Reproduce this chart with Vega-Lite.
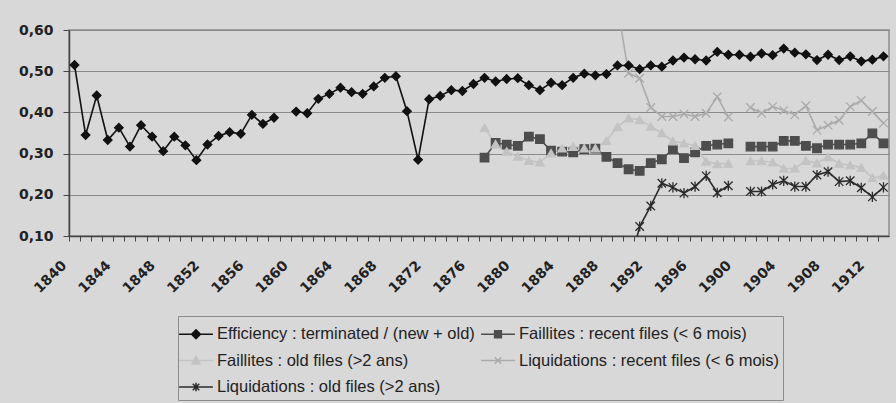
{
  "$schema": "https://vega.github.io/schema/vega-lite/v6.json",
  "autosize": {"type": "none"},
  "padding": {"left": 69, "top": 30, "right": 7, "bottom": 167},
  "width": 820,
  "height": 206,
  "background": "#d8d8d8",
  "config": {
    "view": {"stroke": "#8c8c8c", "strokeWidth": 1.5},
    "font": "Liberation Sans"
  },
  "data": {
    "values": [
      {"year": 1840, "eff": 0.515},
      {"year": 1841, "eff": 0.345},
      {"year": 1842, "eff": 0.441},
      {"year": 1843, "eff": 0.333},
      {"year": 1844, "eff": 0.363},
      {"year": 1845, "eff": 0.317},
      {"year": 1846, "eff": 0.369},
      {"year": 1847, "eff": 0.341},
      {"year": 1848, "eff": 0.306},
      {"year": 1849, "eff": 0.341},
      {"year": 1850, "eff": 0.320},
      {"year": 1851, "eff": 0.284},
      {"year": 1852, "eff": 0.322},
      {"year": 1853, "eff": 0.343},
      {"year": 1854, "eff": 0.352},
      {"year": 1855, "eff": 0.348},
      {"year": 1856, "eff": 0.394},
      {"year": 1857, "eff": 0.372},
      {"year": 1858, "eff": 0.387},
      {"year": 1859, "eff": null},
      {"year": 1860, "eff": 0.402},
      {"year": 1861, "eff": 0.398},
      {"year": 1862, "eff": 0.433},
      {"year": 1863, "eff": 0.445},
      {"year": 1864, "eff": 0.460},
      {"year": 1865, "eff": 0.449},
      {"year": 1866, "eff": 0.445},
      {"year": 1867, "eff": 0.463},
      {"year": 1868, "eff": 0.484},
      {"year": 1869, "eff": 0.488},
      {"year": 1870, "eff": 0.403},
      {"year": 1871, "eff": 0.285},
      {"year": 1872, "eff": 0.432},
      {"year": 1873, "eff": 0.440},
      {"year": 1874, "eff": 0.454},
      {"year": 1875, "eff": 0.452},
      {"year": 1876, "eff": 0.469},
      {"year": 1877, "eff": 0.484, "fr": 0.290, "fo": 0.363},
      {"year": 1878, "eff": 0.475, "fr": 0.326, "fo": 0.323},
      {"year": 1879, "eff": 0.481, "fr": 0.322, "fo": 0.305},
      {"year": 1880, "eff": 0.483, "fr": 0.319, "fo": 0.293},
      {"year": 1881, "eff": 0.466, "fr": 0.341, "fo": 0.283},
      {"year": 1882, "eff": 0.454, "fr": 0.335, "fo": 0.279},
      {"year": 1883, "eff": 0.472, "fr": 0.307, "fo": 0.301},
      {"year": 1884, "eff": 0.466, "fr": 0.305, "fo": 0.313},
      {"year": 1885, "eff": 0.484, "fr": 0.303, "fo": 0.317},
      {"year": 1886, "eff": 0.494, "fr": 0.311, "fo": 0.313},
      {"year": 1887, "eff": 0.490, "fr": 0.312, "fo": 0.313},
      {"year": 1888, "eff": 0.493, "fr": 0.292, "fo": 0.331},
      {"year": 1889, "eff": 0.514, "fr": 0.277, "fo": 0.365, "lr": 0.657},
      {"year": 1890, "eff": 0.514, "fr": 0.262, "fo": 0.386, "lr": 0.495, "lo": 0.02},
      {"year": 1891, "eff": 0.505, "fr": 0.258, "fo": 0.382, "lr": 0.483, "lo": 0.123},
      {"year": 1892, "eff": 0.514, "fr": 0.277, "fo": 0.366, "lr": 0.412, "lo": 0.173},
      {"year": 1893, "eff": 0.511, "fr": 0.286, "fo": 0.350, "lr": 0.390, "lo": 0.228},
      {"year": 1894, "eff": 0.526, "fr": 0.311, "fo": 0.330, "lr": 0.390, "lo": 0.218},
      {"year": 1895, "eff": 0.533, "fr": 0.289, "fo": 0.325, "lr": 0.396, "lo": 0.204},
      {"year": 1896, "eff": 0.529, "fr": 0.303, "fo": 0.319, "lr": 0.390, "lo": 0.220},
      {"year": 1897, "eff": 0.526, "fr": 0.319, "fo": 0.281, "lr": 0.398, "lo": 0.246},
      {"year": 1898, "eff": 0.547, "fr": 0.322, "fo": 0.275, "lr": 0.438, "lo": 0.205},
      {"year": 1899, "eff": 0.540, "fr": 0.325, "fo": 0.276, "lr": 0.389, "lo": 0.222},
      {"year": 1900, "eff": 0.540, "fr": null, "fo": null, "lr": null, "lo": null},
      {"year": 1901, "eff": 0.535, "fr": 0.317, "fo": 0.282, "lr": 0.412, "lo": 0.208},
      {"year": 1902, "eff": 0.543, "fr": 0.317, "fo": 0.282, "lr": 0.398, "lo": 0.208},
      {"year": 1903, "eff": 0.539, "fr": 0.317, "fo": 0.279, "lr": 0.414, "lo": 0.225},
      {"year": 1904, "eff": 0.555, "fr": 0.331, "fo": 0.264, "lr": 0.405, "lo": 0.234},
      {"year": 1905, "eff": 0.545, "fr": 0.331, "fo": 0.264, "lr": 0.394, "lo": 0.220},
      {"year": 1906, "eff": 0.541, "fr": 0.319, "fo": 0.283, "lr": 0.416, "lo": 0.220},
      {"year": 1907, "eff": 0.527, "fr": 0.313, "fo": 0.277, "lr": 0.357, "lo": 0.248},
      {"year": 1908, "eff": 0.540, "fr": 0.322, "fo": 0.292, "lr": 0.369, "lo": 0.256},
      {"year": 1909, "eff": 0.527, "fr": 0.322, "fo": 0.276, "lr": 0.381, "lo": 0.232},
      {"year": 1910, "eff": 0.536, "fr": 0.322, "fo": 0.272, "lr": 0.414, "lo": 0.234},
      {"year": 1911, "eff": 0.524, "fr": 0.325, "fo": 0.266, "lr": 0.429, "lo": 0.217},
      {"year": 1912, "eff": 0.528, "fr": 0.349, "fo": 0.241, "lr": 0.402, "lo": 0.195},
      {"year": 1913, "eff": 0.536, "fr": 0.325, "fo": 0.247, "lr": 0.374, "lo": 0.218}
    ]
  },
  "transform": [
    {"fold": ["eff", "fr", "fo", "lr", "lo"], "as": ["series", "value"]}
  ],
  "encoding": {
    "x": {
      "field": "year",
      "type": "quantitative",
      "scale": {"domain": [1839.5, 1913.5], "nice": false, "zero": false},
      "axis": {
        "title": null,
        "grid": false,
        "values": [1840,1841,1842,1843,1844,1845,1846,1847,1848,1849,1850,1851,1852,1853,1854,1855,1856,1857,1858,1859,1860,1861,1862,1863,1864,1865,1866,1867,1868,1869,1870,1871,1872,1873,1874,1875,1876,1877,1878,1879,1880,1881,1882,1883,1884,1885,1886,1887,1888,1889,1890,1891,1892,1893,1894,1895,1896,1897,1898,1899,1900,1901,1902,1903,1904,1905,1906,1907,1908,1909,1910,1911,1912,1913,1914],
        "labelExpr": "datum.value % 4 == 0 && datum.value < 1914 ? '' + datum.value : ''",
        "labelOverlap": false,
        "labelFlush": false,
        "labelBound": false,
        "tickOffset": -5.54,
        "labelOffset": -10,
        "labelAngle": -45,
        "labelAlign": "right",
        "labelBaseline": "top",
        "labelPadding": 17,
        "labelFont": "DejaVu Sans",
        "labelFontWeight": "bold",
        "labelFontSize": 14,
        "labelColor": "#222222",
        "tickSize": 5,
        "tickColor": "#444444",
        "domainColor": "#444444",
        "domainWidth": 1.5
      }
    },
    "y": {
      "field": "value",
      "type": "quantitative",
      "scale": {"domain": [0.1, 0.6], "nice": false, "zero": false},
      "axis": {
        "title": null,
        "values": [0.1, 0.2, 0.3, 0.4, 0.5, 0.6],
        "labelExpr": "replace(format(datum.value, '.2f'), '.', ',')",
        "labelFont": "DejaVu Sans",
        "labelFontWeight": "bold",
        "labelFontSize": 14,
        "labelColor": "#222222",
        "labelPadding": 10,
        "tickSize": 6,
        "tickColor": "#444444",
        "domainColor": "#444444",
        "domainWidth": 1.5,
        "gridColor": "#8a8a8a",
        "gridWidth": 1.2,
        "gridOpacity": 1
      }
    },
    "color": {
      "field": "series",
      "type": "nominal",
      "scale": {
        "domain": ["eff", "fr", "fo", "lr", "lo"],
        "range": ["#111111", "#4d4d4d", "#c3c3c3", "#ababab", "#2b2b2b"]
      },
      "legend": {
        "title": null,
        "orient": "none",
        "legendX": 109,
        "legendY": 286,
        "columns": 2,
        "direction": "horizontal",
        "strokeColor": "#8c8c8c",
        "padding": 4,
        "columnPadding": 3,
        "rowPadding": 3.5,
        "symbolSize": 676,
        "symbolStrokeWidth": 1.5,
        "labelOffset": 7,
        "labelFont": "Liberation Sans",
        "labelFontSize": 16.5,
        "labelColor": "#222222",
        "labelLimit": 400,
        "labelExpr": "datum.value == 'eff' ? 'Efficiency : terminated / (new + old)' : datum.value == 'fr' ? 'Faillites : recent files (< 6 mois)' : datum.value == 'fo' ? 'Faillites : old files (>2 ans)' : datum.value == 'lr' ? 'Liquidations : recent files (< 6 mois)' : 'Liquidations : old files (>2 ans)'",
        "encode": {
          "symbols": {
            "update": {
              "shape": {"signal": "datum.value == 'eff' ? 'M-1.3,0H1.3M0,-0.34L0.34,0L0,0.34L-0.34,0Z' : datum.value == 'fr' ? 'M-1.3,0H1.3M-0.26,-0.26H0.26V0.26H-0.26Z' : datum.value == 'fo' ? 'M-1.3,0H1.3M0,-0.3L0.3,0.26H-0.3Z' : datum.value == 'lr' ? 'M-1.3,0H1.3M-0.25,-0.25L0.25,0.25M-0.25,0.25L0.25,-0.25' : 'M-1.3,0H1.3M-0.25,-0.25L0.25,0.25M-0.25,0.25L0.25,-0.25M0,-0.32V0.32'"},
              "strokeWidth": {"value": 1.5}
            }
          }
        }
      }
    }
  },
  "layer": [
    {
      "mark": {"type": "line", "strokeWidth": 1.6, "clip": true, "invalid": "break-paths-filter-domains"}
    },
    {
      "transform": [{"calculate": "datum.series", "as": "marker"}],
      "mark": {"type": "point", "filled": true, "size": 72, "strokeWidth": 1.3, "opacity": 1, "clip": true},
      "encoding": {
        "shape": {
          "field": "marker",
          "type": "nominal",
          "scale": {
            "domain": ["lo", "lr", "fo", "fr", "eff"],
            "range": ["M-1,-1L1,1M-1,1L1,-1M0,-1.2V1.2", "M-1,-1L1,1M-1,1L1,-1", "triangle-up", "square", "diamond"]
          },
          "legend": null
        },
        "stroke": {
          "field": "marker",
          "type": "nominal",
          "scale": {
            "domain": ["fo", "lo", "eff", "lr", "fr"],
            "range": ["#c3c3c3", "#2b2b2b", "#111111", "#ababab", "#4d4d4d"]
          },
          "legend": null
        }
      }
    }
  ]
}
